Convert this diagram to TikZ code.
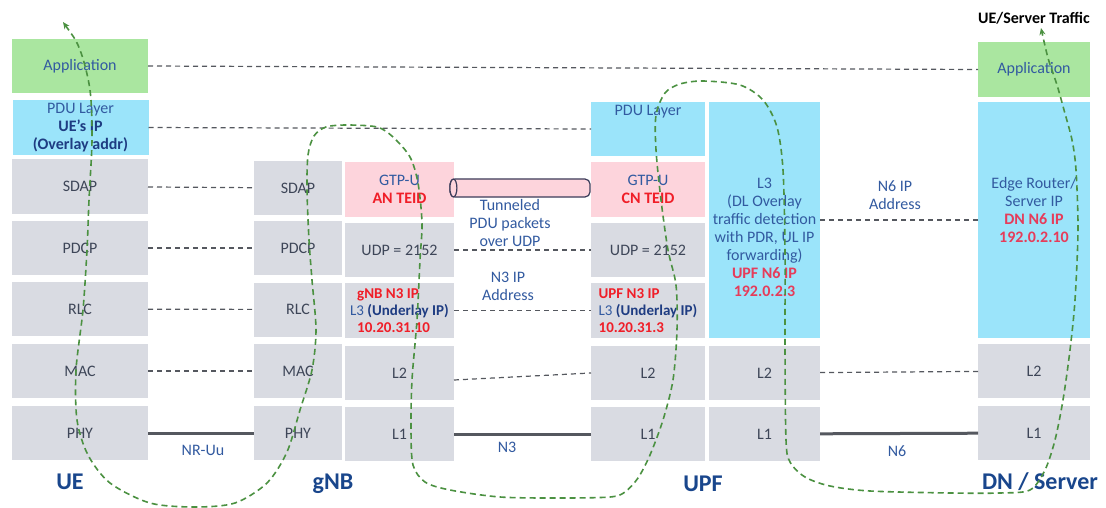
\documentclass[tikz,border=0pt]{standalone}
\usepackage{fontspec}
\setmainfont{Carlito}
\usetikzlibrary{positioning,arrows.meta}
\definecolor{boxgray}{RGB}{217,219,226}
\definecolor{boxgreen}{RGB}{170,230,160}
\definecolor{boxcyan}{RGB}{155,228,250}
\definecolor{boxpink}{RGB}{253,212,220}
\definecolor{txtgray}{RGB}{62,70,88}
\definecolor{txtblue}{RGB}{50,90,160}
\definecolor{txtdark}{RGB}{30,60,130}
\definecolor{bigblue}{RGB}{25,70,140}
\definecolor{hotred}{RGB}{240,30,40}
\definecolor{pinkred}{RGB}{230,60,90}
\definecolor{lnkgray}{RGB}{85,88,95}
\definecolor{tubeline}{RGB}{60,60,90}
\definecolor{flowgreen}{RGB}{75,145,65}

\begin{document}
\begin{tikzpicture}[x=1pt, y=-1pt, every node/.style={font=\fontsize{16}{18}\selectfont},
  lay/.style={inner sep=1pt, outer sep=0pt, minimum height=54pt, text=txtgray, align=center},
  graybox/.style={lay, fill=boxgray},
  greenbox/.style={lay, fill=boxgreen},
  cyanbox/.style={lay, fill=boxcyan, text=txtblue},
  pinkbox/.style={lay, fill=boxpink, text=txtblue},
  peerline/.style={draw=lnkgray, line width=1.2pt, dash pattern=on 5pt off 4pt},
  wire/.style={draw=lnkgray, line width=3pt},
  tunnel/.style={draw=tubeline, fill=boxpink, line width=1.2pt, rounded corners=5pt, minimum width=140pt, minimum height=18pt},
  lbl/.style={text=txtblue, align=center},
  big/.style={text=bigblue, font=\bfseries\fontsize{24}{28}\selectfont},
  flow/.style={draw=flowgreen, line width=1.6pt, dash pattern=on 6pt off 4pt, {Stealth[length=7pt,width=6pt]}-{Stealth[length=7pt,width=6pt]}}]
\fill[white] (0,0) rectangle (1106,508);
\useasboundingbox (0,0) rectangle (1106,508);

% UE stack
\node[greenbox, minimum width=136pt, text=txtblue] (ueapp) at (80,66) {Application};
\node[cyanbox, minimum width=136pt, minimum height=55pt] (uepdu) at (80.5,127.5) {PDU Layer\\\textbf{\color{txtdark}UE’s IP}\\\textbf{\color{txtdark}(Overlay addr)}};
\node[graybox, minimum width=136pt] (uesdap) at (80,186.5) {SDAP};
\node[graybox, minimum width=136pt] (uepdcp) at (80,248) {PDCP};
\node[graybox, minimum width=136pt] (uerlc) at (80,309) {RLC};
\node[graybox, minimum width=136pt] (uemac) at (80,371) {MAC};
\node[graybox, minimum width=136pt] (uephy) at (80,433) {PHY};

% gNB stacks
\node[graybox, minimum width=88pt] (gsdap) at (298,188) {SDAP};
\node[graybox, minimum width=88pt] (gpdcp) at (298,248) {PDCP};
\node[graybox, minimum width=88pt] (grlc) at (298,309.5) {RLC};
\node[graybox, minimum width=88pt] (gmac) at (298,371) {MAC};
\node[graybox, minimum width=88pt] (gphy) at (298,433) {PHY};
\node[pinkbox, minimum width=109pt, minimum height=55pt] (ggtp) at (399.5,189.5) {GTP-U\\\textcolor{hotred}{\textbf{AN TEID}}};
\node[graybox, minimum width=109pt] (gudp) at (399.5,250) {UDP = 2152};
\node[graybox, minimum width=109pt, minimum height=55pt, align=left, text=txtblue, font=\fontsize{15}{17}\selectfont] (gl3) at (399.5,310.5) {\hspace{7pt}\textcolor{hotred}{\textbf{gNB N3 IP}}\\L3 \textbf{\color{txtdark}(Underlay IP)}\\\hspace{7pt}\textcolor{hotred}{\textbf{10.20.31.10}}};
\node[graybox, minimum width=109pt] (gl2) at (399.5,373) {L2};
\node[graybox, minimum width=109pt] (gl1) at (399.5,434) {L1};

% UPF stacks
\node[cyanbox, minimum width=114pt, label={[anchor=north, text=txtblue, inner sep=3pt]north:PDU Layer}] (updu) at (648,129) {};
\node[pinkbox, minimum width=114pt, minimum height=55pt] (ugtp) at (648,189.5) {GTP-U\\\textcolor{hotred}{\textbf{CN TEID}}};
\node[graybox, minimum width=114pt] (uudp) at (648,250) {UDP = 2152};
\node[graybox, minimum width=114pt, minimum height=55pt, align=left, text=txtblue, font=\fontsize{15}{17}\selectfont] (ul3) at (648,310.5) {\textcolor{hotred}{\textbf{UPF N3 IP}}\\L3 \textbf{\color{txtdark}(Underlay IP)}\\\textcolor{hotred}{\textbf{10.20.31.3}}};
\node[graybox, minimum width=114pt] (ul2) at (648,373) {L2};
\node[graybox, minimum width=114pt] (ul1) at (648,434) {L1};
\node[cyanbox, minimum width=111pt, minimum height=236pt] (un6) at (764.5,220) {};
\node[lbl] (un6txt) at (764.5,237) {L3\\(DL Overlay\\traffic detection\\with PDR, UL IP\\forwarding)\\\textcolor{pinkred}{\textbf{UPF N6 IP}}\\\textcolor{pinkred}{\textbf{192.0.2.3}}};
\node[graybox, minimum width=111pt] (ul2b) at (764.5,373) {L2};
\node[graybox, minimum width=111pt] (ul1b) at (764.5,434) {L1};

% DN / server stack
\node[greenbox, minimum width=112pt, minimum height=55pt, text=txtblue] (dapp) at (1034,69.5) {Application};
\node[cyanbox, minimum width=112pt, minimum height=236pt] (dl3) at (1034,220) {};
\node[lbl] (dl3txt) at (1034,210) {Edge Router/\\Server IP\\\textcolor{pinkred}{\textbf{DN N6 IP}}\\\textcolor{pinkred}{\textbf{192.0.2.10}}};
\node[graybox, minimum width=112pt] (dl2) at (1034,371) {L2};
\node[graybox, minimum width=112pt] (dl1) at (1034,433) {L1};

% tunnel
\node[tunnel] (tun) at (520,188) {};
\draw[draw=tubeline, fill=boxpink, line width=1.2pt] ([xshift=4pt]tun.west) ellipse (3.5 and 9);

% peer links
\draw[peerline] (ueapp.east)--(dapp.west); \draw[peerline] (uepdu.east)--(updu.west);
\draw[peerline] (uesdap)--(gsdap); \draw[peerline] (uepdcp)--(gpdcp); \draw[peerline] (uerlc)--(grlc); \draw[peerline] (uemac)--(gmac);
\draw[peerline] (gudp)--(uudp); \draw[peerline] (gl3)--(ul3); \draw[peerline] ([yshift=-7pt]gl2.east)--(ul2.west);
\draw[peerline] (un6)--(dl3); \draw[peerline] (ul2b)--(dl2);
\draw[wire] (uephy)--(gphy); \draw[wire] (gl1)--(ul1); \draw[wire] (ul1b)--(dl1);

% labels
\node[lbl] (tuntxt) at (510,223) {Tunneled\\PDU packets\\over UDP};
\node[lbl] (n3ip) at (508,286) {N3 IP\\Address};
\node[lbl] (n6ip) at (895,195) {N6 IP\\Address};
\node[lbl] (nruu) at (203,450) {NR-Uu};
\node[lbl] (n3) at (507,447) {N3};
\node[lbl] (n6) at (897,451) {N6};
\node[big] (ue) at (70,482) {UE};
\node[big] (gnb) at (333,484) {gNB};
\node[big] (upf) at (703,484) {UPF};
\node[big] (dn) at (1040,482) {DN / Server};
\node[font=\bfseries\fontsize{16}{18}\selectfont] (traffic) at (1034,18) {UE/Server Traffic};

% user plane path
\draw[flow] plot[smooth, tension=0.5] coordinates {(63,22) (80,50) (90,90) (92,140) (89,200) (87,250) (83,310) (76,370) (77,420) (88,455) (110,483) (150,503) (195,507) (235,503) (267,483) (287,452) (300,410) (312,370) (316,330) (312,280) (309,240) (307,190) (308,155) (314,136) (326,127) (347,125) (377,127) (393,137) (410,157) (418,183) (422,223) (420,260) (417,320) (412,380) (411,430) (413,465) (425,482) (450,490) (500,497) (560,498) (610,497) (625,492) (638,478) (650,455) (663,420) (673,380) (677,330) (676,285) (668,250) (661,200) (656,150) (656,115) (665,93) (680,84) (703,81) (740,85) (763,100) (777,127) (783,170) (785,250) (785,350) (786,440) (790,462) (805,477) (830,486) (870,491) (950,493) (1000,493) (1030,490) (1045,470) (1055,440) (1063,400) (1070,350) (1075,300) (1078,230) (1076,170) (1072,140) (1064,110) (1057,85) (1048,58) (1041,28)};
\end{tikzpicture}
\end{document}
